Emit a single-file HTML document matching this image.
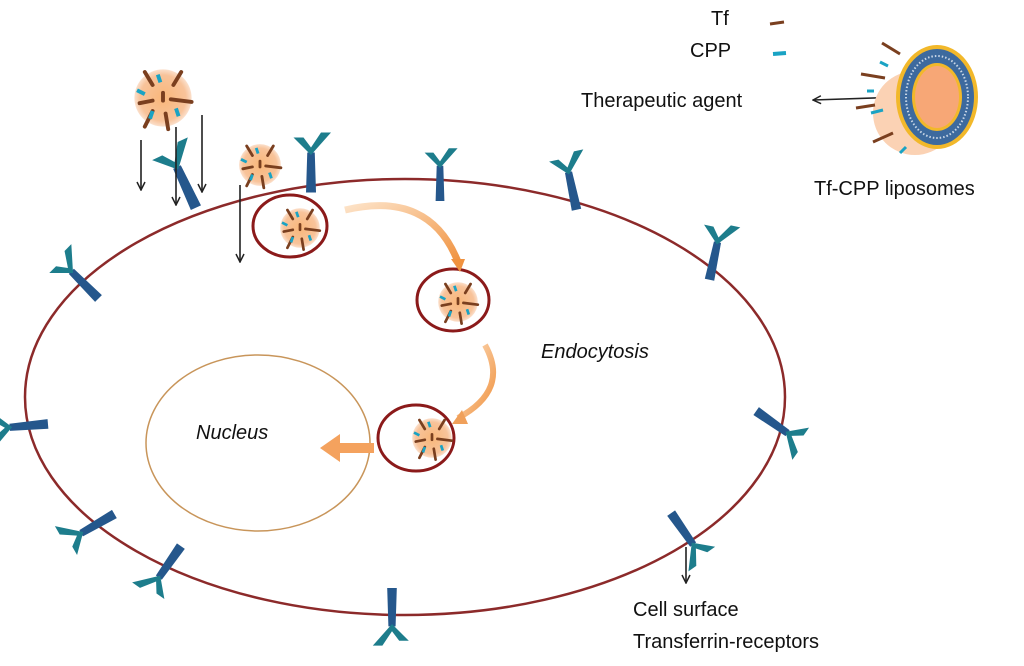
<!DOCTYPE html>
<html><head><style>
html,body{margin:0;padding:0;background:#fff;}
text{font-family:"Liberation Sans",sans-serif;fill:#111;}
</style></head><body>
<svg width="1024" height="661" viewBox="0 0 1024 661" xmlns="http://www.w3.org/2000/svg">
<defs>
<radialGradient id="pg" cx="50%" cy="50%" r="50%">
<stop offset="0" stop-color="#f9b77a"/><stop offset="0.8" stop-color="#f8c39a"/><stop offset="1" stop-color="#fbe0cc"/>
</radialGradient>
<linearGradient id="ag" x1="0" y1="0" x2="1" y2="1">
<stop offset="0" stop-color="#fde3c8"/><stop offset="1" stop-color="#f0923f"/></linearGradient>
<g id="rec">
<path d="M-3,-22 L3,-22 L4,10 L-4,10 Z" fill="#25578c"/>
<path d="M0,-20 L-14,-34 L-6,-34 L0,-26 L8,-38 L16,-38 Z" fill="#1d7d8c"/>
</g>
<g id="par">
<circle r="22" fill="url(#pg)"/>
<g stroke="#7a3f1f" stroke-width="3" stroke-linecap="round">
<line x1="-14" y1="-20" x2="-8" y2="-10"/><line x1="14" y1="-20" x2="8" y2="-10"/>
<line x1="6" y1="1" x2="22" y2="3"/><line x1="0" y1="-4" x2="0" y2="2"/>
<line x1="-18" y1="4" x2="-8" y2="2"/><line x1="-14" y1="22" x2="-8" y2="10"/>
<line x1="2" y1="12" x2="4" y2="24"/>
</g>
<g stroke="#1aa3c4" stroke-width="3">
<line x1="-4" y1="-18" x2="-2" y2="-12"/><line x1="-20" y1="-6" x2="-14" y2="-3"/>
<line x1="-10" y1="16" x2="-8" y2="10"/><line x1="12" y1="14" x2="10" y2="8"/>
</g>
</g>
<marker id="ah" markerWidth="10" markerHeight="10" refX="9" refY="5" orient="auto" markerUnits="userSpaceOnUse">
<path d="M1,1 L9,5 L1,9" fill="none" stroke="#222" stroke-width="1.5"/></marker>
</defs>

<ellipse cx="405" cy="397" rx="380" ry="218" fill="none" stroke="#8c2a2a" stroke-width="2.5"/>
<ellipse cx="258" cy="443" rx="112" ry="88" fill="none" stroke="#c8955a" stroke-width="1.5"/>

<use href="#rec" transform="translate(190,195) rotate(-25) scale(1.4)"/>
<use href="#rec" transform="translate(311,180) scale(1.25)"/>
<use href="#rec" transform="translate(440,190) scale(1.1)"/>
<use href="#rec" transform="translate(574,198) rotate(-12) scale(1.2)"/>
<use href="#rec" transform="translate(712,268) rotate(12) scale(1.2)"/>
<use href="#rec" transform="translate(90,290) rotate(-45) scale(1.2)"/>
<use href="#rec" transform="translate(36,425) rotate(-95) scale(1.2)"/>
<use href="#rec" transform="translate(104,520) rotate(-120) scale(1.2)"/>
<use href="#rec" transform="translate(174,556) rotate(-145) scale(1.2)"/>
<use href="#rec" transform="translate(392,600) rotate(180) scale(1.2)"/>
<use href="#rec" transform="translate(678,523) rotate(145) scale(1.2)"/>
<use href="#rec" transform="translate(766,418) rotate(125) scale(1.2)"/>

<use href="#par" transform="translate(163,98) scale(1.3)"/>
<use href="#par" transform="translate(260,165) scale(0.95)"/>

<ellipse cx="290" cy="226" rx="37" ry="31" fill="none" stroke="#8b1a1a" stroke-width="3"/>
<use href="#par" transform="translate(300,228) scale(0.9)"/>
<ellipse cx="453" cy="300" rx="36" ry="31" fill="none" stroke="#8b1a1a" stroke-width="3"/>
<use href="#par" transform="translate(458,302) scale(0.9)"/>
<ellipse cx="416" cy="438" rx="38" ry="33" fill="none" stroke="#8b1a1a" stroke-width="3"/>
<use href="#par" transform="translate(432,438) scale(0.9)"/>

<path d="M345,210 Q430,190 458,262" fill="none" stroke="url(#ag)" stroke-width="7"/>
<path d="M451,259 L465,259 L460,272 Z" fill="#f0923f"/>
<path d="M485,345 Q510,390 458,418" fill="none" stroke="url(#ag)" stroke-width="6"/>
<path d="M462,410 L452,424 L468,424 Z" fill="#f0a05a"/>
<path d="M374,443 L340,443 L340,434 L320,448 L340,462 L340,453 L374,453 Z" fill="#f4a25e"/>

<g stroke="#222" stroke-width="1.6" marker-end="url(#ah)">
<line x1="141" y1="140" x2="141" y2="190"/>
<line x1="176" y1="127" x2="176" y2="205"/>
<line x1="202" y1="115" x2="202" y2="192"/>
<line x1="240" y1="185" x2="240" y2="262"/>
<line x1="686" y1="547" x2="686" y2="583"/>
<line x1="935" y1="96" x2="813" y2="100"/>
</g>

<circle cx="915" cy="113" r="42" fill="#fbd2b4"/>
<ellipse cx="937" cy="97" rx="41" ry="52" fill="#f2b82a"/>
<ellipse cx="937" cy="97" rx="37" ry="48" fill="#3d6a9e"/>
<ellipse cx="937" cy="97" rx="31" ry="41" fill="none" stroke="#c9d6e6" stroke-width="2" stroke-dasharray="1.5 2"/>
<ellipse cx="937" cy="97" rx="25" ry="34" fill="#f2b82a"/>
<ellipse cx="937" cy="97" rx="22" ry="31" fill="#f7a776"/>
<g stroke="#7a3f1f" stroke-width="3">
<line x1="882" y1="43" x2="900" y2="54"/><line x1="861" y1="74" x2="885" y2="78"/>
<line x1="856" y1="108" x2="875" y2="105"/><line x1="873" y1="142" x2="893" y2="133"/>
</g>
<g stroke="#1aa3c4" stroke-width="3">
<line x1="880" y1="62" x2="888" y2="66"/><line x1="867" y1="91" x2="874" y2="91"/>
<line x1="871" y1="113" x2="883" y2="110"/><line x1="900" y1="153" x2="906" y2="147"/>
</g>
<line x1="770" y1="24" x2="784" y2="22" stroke="#7a3f1f" stroke-width="3"/>
<line x1="773" y1="54" x2="786" y2="53" stroke="#1aa3c4" stroke-width="4"/>

<text x="711" y="25" font-size="20">Tf</text>
<text x="690" y="57" font-size="20">CPP</text>
<text x="581" y="107" font-size="20">Therapeutic agent</text>
<text x="814" y="195" font-size="20">Tf-CPP liposomes</text>
<text x="541" y="358" font-size="20" font-style="italic">Endocytosis</text>
<text x="196" y="439" font-size="20" font-style="italic">Nucleus</text>
<text x="633" y="616" font-size="20">Cell surface</text>
<text x="633" y="648" font-size="20">Transferrin-receptors</text>
</svg>
</body></html>
